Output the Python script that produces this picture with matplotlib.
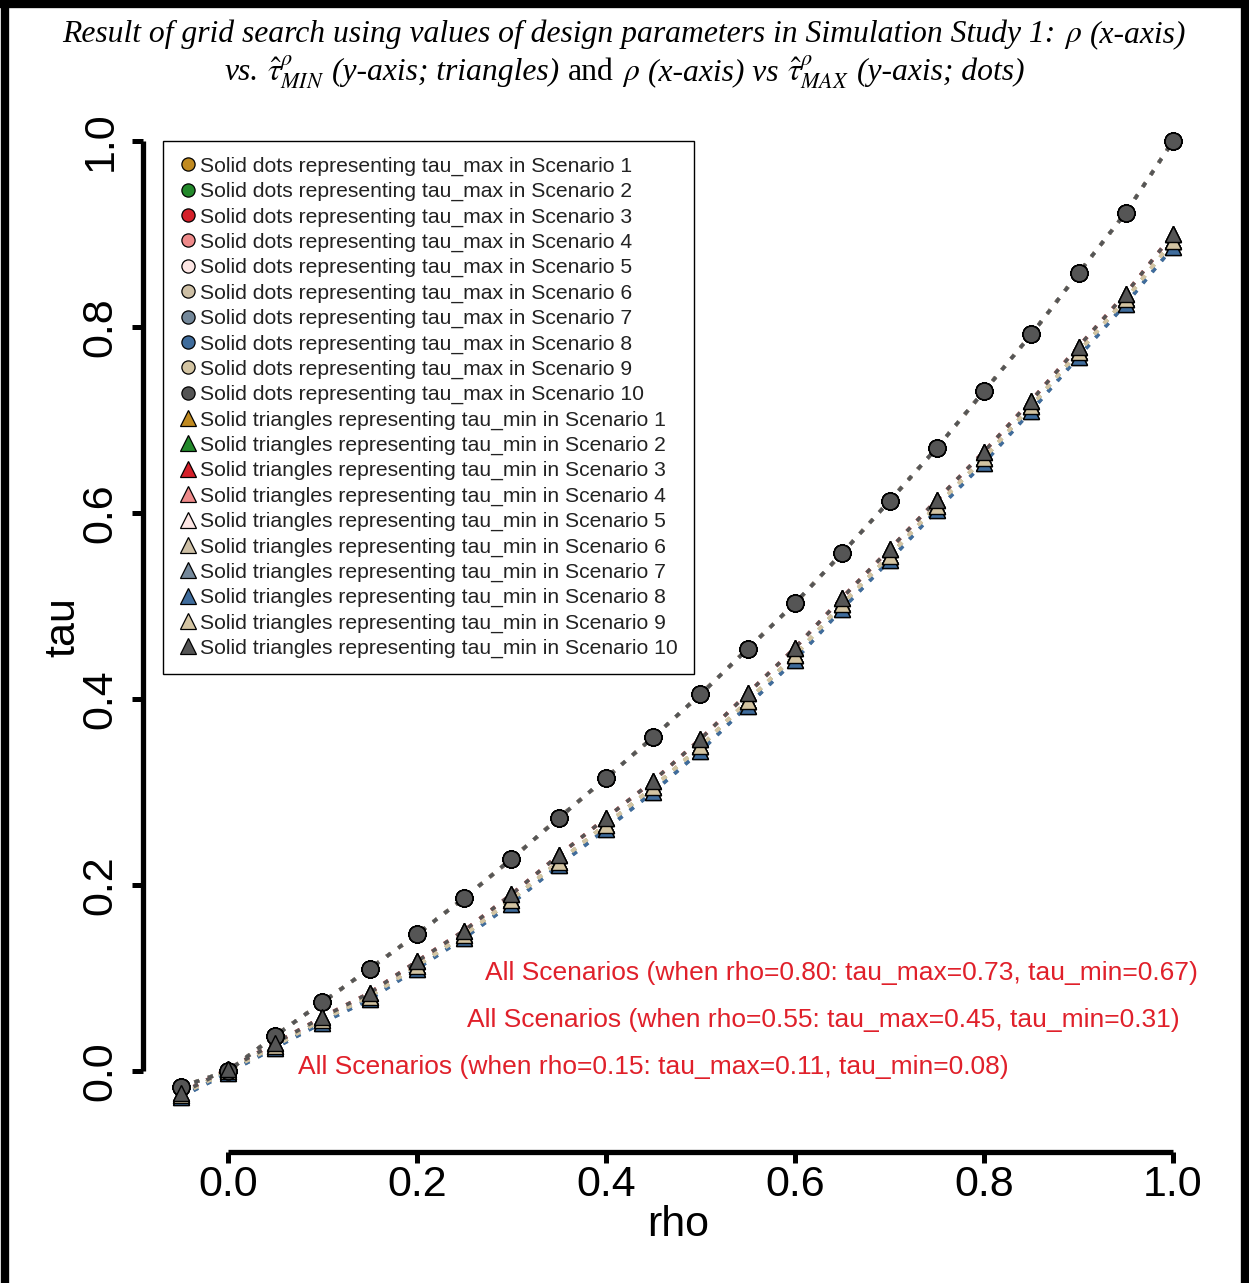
import matplotlib

matplotlib.use("Agg")
import matplotlib.pyplot as plt
from matplotlib.lines import Line2D

plt.rcParams["font.family"] = "Liberation Sans"
plt.rcParams["mathtext.fontset"] = "stix"

# grid of rho values and the resulting tau bounds per scenario
rho = [-0.05, 0.00, 0.05, 0.10, 0.15, 0.20, 0.25, 0.30, 0.35, 0.40, 0.45,
       0.50, 0.55, 0.60, 0.65, 0.70, 0.75, 0.80, 0.85, 0.90, 0.95, 1.00]

tau_max = [-0.017, 0.000, 0.038, 0.074, 0.110, 0.147, 0.186, 0.228, 0.272, 0.315, 0.359,
           0.405, 0.454, 0.503, 0.557, 0.613, 0.670, 0.731, 0.792, 0.858, 0.923, 1.000]

tau_min_mid = [-0.026, 0.000, 0.027, 0.055, 0.080, 0.113, 0.146, 0.184, 0.225, 0.265, 0.305,
               0.349, 0.398, 0.447, 0.502, 0.554, 0.608, 0.659, 0.715, 0.773, 0.830, 0.892]
tau_min_high = [-0.024, 0.002, 0.030, 0.058, 0.084, 0.118, 0.151, 0.190, 0.232, 0.272, 0.312,
                0.357, 0.406, 0.455, 0.509, 0.561, 0.614, 0.666, 0.721, 0.779, 0.836, 0.900]
tau_min_low = [-0.028, -0.002, 0.025, 0.052, 0.077, 0.110, 0.143, 0.180, 0.221, 0.260, 0.300,
               0.344, 0.393, 0.442, 0.497, 0.549, 0.603, 0.654, 0.710, 0.768, 0.825, 0.886]

scenarios = [1, 2, 3, 4, 5, 6, 7, 8, 9, 10]
scenario_colors = ["#C08A20", "#23892B", "#D4202A", "#EE8A8A", "#FDE6E4",
                   "#CDBFA5", "#74889A", "#3F6C9C", "#D3C4A2", "#555555"]
tau_min_by_scenario = [tau_min_mid, tau_min_mid, tau_min_high, tau_min_high, tau_min_mid,
                       tau_min_mid, tau_min_low, tau_min_low, tau_min_mid, tau_min_high]

notes = [
    (0.649, 0.105, "All Scenarios (when rho=0.80: tau_max=0.73, tau_min=0.67)"),
    (0.630, 0.055, "All Scenarios (when rho=0.55: tau_max=0.45, tau_min=0.31)"),
    (0.450, 0.004, "All Scenarios (when rho=0.15: tau_max=0.11, tau_min=0.08)"),
]

W, H = 1249, 1283
fig = plt.figure(figsize=(W / 100, H / 100), dpi=100)
ax = fig.add_axes([143 / W, 1 - 1152 / H, 1070 / W, 1050 / H])

dotted = (0, (1.4, 2.6))
for col, tmin in zip(scenario_colors, tau_min_by_scenario):
    ax.plot(rho, tau_max, ls=dotted, lw=2.6, color=col, zorder=2)
    ax.plot(rho, tmin, ls=dotted, lw=2.6, color=col, zorder=2)
for col, tmin in zip(scenario_colors, tau_min_by_scenario):
    ax.plot(rho, tau_max, ls="none", marker="o", ms=12, mfc=col, mec="black",
            mew=1.0, zorder=3)
    ax.plot(rho, tmin, ls="none", marker="^", ms=11, mfc=col, mec="black",
            mew=1.0, zorder=3)

for x, y, s in notes:
    ax.text(x, y, s, color="#E0202A", fontsize=19, ha="center", va="center", zorder=4)

ax.set_xlim(-0.0899, 1.0423)
ax.set_ylim(-0.0871, 1.042)
for side in ("top", "right"):
    ax.spines[side].set_visible(False)
for side in ("left", "bottom"):
    ax.spines[side].set_linewidth(3.8)
    ax.spines[side].set_capstyle("butt")
ax.spines["left"].set_bounds(0, 1)
ax.spines["bottom"].set_bounds(0, 1)

ticks = [0.0, 0.2, 0.4, 0.6, 0.8, 1.0]
ax.set_xticks(ticks, [f"{t:.1f}" for t in ticks])
ax.set_yticks(ticks, [f"{t:.1f}" for t in ticks])
ax.tick_params(axis="both", length=8, width=3.6, labelsize=31, color="black")
ax.tick_params(axis="x", pad=1)
ax.tick_params(axis="y", pad=8)
for lab in ax.get_yticklabels():
    lab.set_rotation(90)
    lab.set_va("center")
    lab.set_ha("right")

ax.set_xlabel("rho", fontsize=31, labelpad=0)
ax.set_ylabel("tau", fontsize=31, labelpad=-2)

# legend: dots for tau_max, triangles for tau_min
handles = []
labels = []
for s, col in zip(scenarios, scenario_colors):
    handles.append(Line2D([], [], ls="none", marker="o", ms=9.5, mfc=col, mec="black", mew=0.9))
    labels.append(f"Solid dots representing tau_max in Scenario {s}")
for s, col in zip(scenarios, scenario_colors):
    handles.append(Line2D([], [], ls="none", marker="^", ms=11, mfc=col, mec="black", mew=0.9))
    labels.append(f"Solid triangles representing tau_min in Scenario {s}")
leg = ax.legend(handles, labels, loc="upper left", bbox_to_anchor=(0.0187, 0.963),
                borderaxespad=0, fontsize=15.2, labelspacing=0.29, handlelength=0.9,
                handletextpad=0.12, borderpad=0.75, fancybox=False, framealpha=1,
                edgecolor="black", labelcolor="#222222")
leg.get_frame().set_linewidth(1.0)

# two-line title built from italic, upright and math pieces
renderer = fig.canvas.get_renderer()
title_size = 22.8


def title_line(pieces, y_px):
    gap = 0.26 * title_size * 100 / 72
    texts = []
    for s, kind in pieces:
        kw = dict(fontsize=title_size, va="baseline", ha="left")
        if kind != "math":
            kw["family"] = "Liberation Serif"
            kw["style"] = "italic" if kind == "it" else "normal"
        texts.append(fig.text(0, 1 - y_px / H, s, **kw))
    widths = [t.get_window_extent(renderer).width for t in texts]
    total = sum(widths) + gap * (len(texts) - 1)
    x = (W - total) / 2
    for t, w in zip(texts, widths):
        t.set_x(x / W)
        x += w + gap


title_line([
    ("Result of grid search using values of design parameters in Simulation Study 1:", "it"),
    (r"$\rho$", "math"),
    ("(x-axis)", "it"),
], 42)
title_line([
    ("vs.", "it"),
    (r"$\hat{\tau}^{\rho}_{MIN}$", "math"),
    ("(y-axis; triangles)", "it"),
    ("and", "rm"),
    (r"$\rho$", "math"),
    ("(x-axis) vs", "it"),
    (r"$\hat{\tau}^{\rho}_{MAX}$", "math"),
    ("(y-axis; dots)", "it"),
], 80)

# page frame on the left, top and right
for xs, ys in (([5, 5], [0, H]), ([0, W], [H - 4, H - 4]), ([W - 4, W - 4], [0, H])):
    fig.add_artist(Line2D([x / W for x in xs], [y / H for y in ys], color="black",
                          lw=6, transform=fig.transFigure))

fig.savefig("out.png", dpi=100)
